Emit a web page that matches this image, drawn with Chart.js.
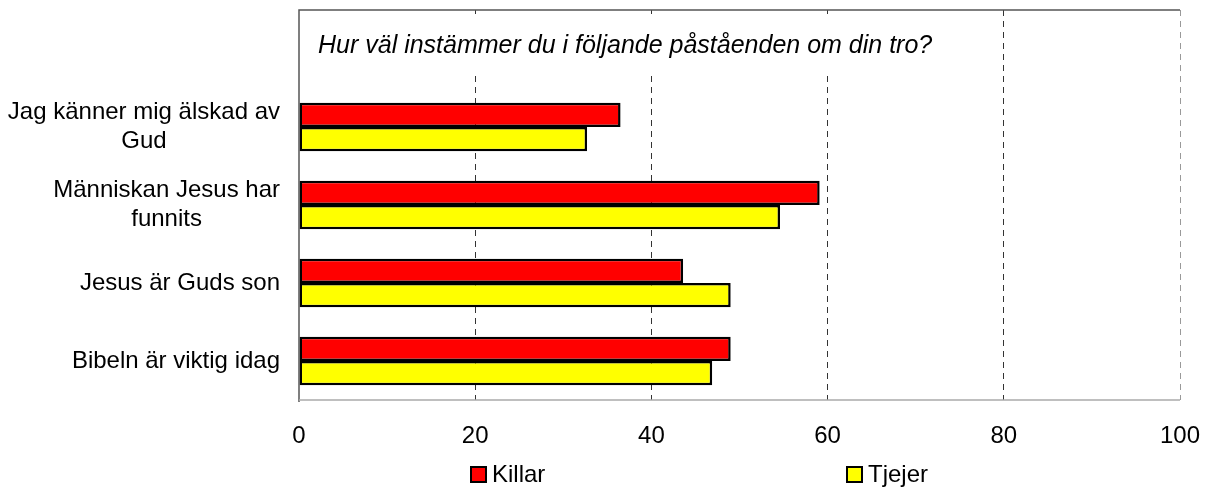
<!DOCTYPE html>
<html>
<head>
<meta charset="utf-8">
<script src="https://cdn.jsdelivr.net/npm/chart.js@4.4.0/dist/chart.umd.min.js"></script>
<style>
  html, body { margin: 0; padding: 0; background: #fff; }
  #wrap { width: 1207px; height: 488px; }
</style>
</head>
<body>
<div id="wrap"><canvas id="chart"></canvas></div>
<script>
// Chart data
const title = "Hur väl instämmer du i följande påståenden om din tro?";
const categories = [
  ["Jag känner mig älskad av", "Gud"],
  ["Människan Jesus har", "funnits"],
  ["Jesus är Guds son"],
  ["Bibeln är viktig idag"],
];
const seriesNames = ["Killar", "Tjejer"];
const killar = [36.5, 59.1, 43.6, 49.0];
const tjejer = [32.7, 54.6, 49.0, 46.9];
const xMin = 0;
const xMax = 100;
const xStep = 20;

const FONT = '"Liberation Sans", Arial, sans-serif';
Chart.defaults.font.family = FONT;
Chart.defaults.font.size = 24;
Chart.defaults.color = "#000";

// top row is left empty, the title sits there inside the plot frame
const labels = [""].concat(categories.map((c) => c.join(" ")));

// title box drawn over the grid lines
const titlePlugin = {
  id: "titleBox",
  beforeDatasetsDraw(chart) {
    const { ctx, chartArea } = chart;
    ctx.save();
    ctx.fillStyle = "#fff";
    ctx.fillRect(chartArea.left + 11, chartArea.top + 4, 640, 62);
    ctx.fillStyle = "#000";
    ctx.font = "italic 25px " + FONT;
    ctx.textAlign = "left";
    ctx.textBaseline = "middle";
    ctx.fillText(title, chartArea.left + 19, chartArea.top + 36);
    ctx.restore();
  },
};

// frame, category labels and legend
const extrasPlugin = {
  id: "extras",
  afterDraw(chart) {
    const { ctx, chartArea, scales } = chart;
    ctx.save();

    // frame lines
    ctx.lineWidth = 1.5;
    ctx.strokeStyle = "#555";
    ctx.beginPath();
    ctx.moveTo(chartArea.left, chartArea.bottom + 2);
    ctx.lineTo(chartArea.left, chartArea.top);
    ctx.lineTo(chartArea.right, chartArea.top);
    ctx.stroke();
    ctx.strokeStyle = "#aaa";
    ctx.beginPath();
    ctx.moveTo(chartArea.left, chartArea.bottom);
    ctx.lineTo(chartArea.right, chartArea.bottom);
    ctx.stroke();

    // category labels, each label's lines centred on each other
    ctx.font = "24px " + FONT;
    ctx.fillStyle = "#000";
    ctx.textAlign = "center";
    ctx.textBaseline = "middle";
    const rightEdge = chartArea.left - 19;
    categories.forEach((lines, i) => {
      const y = scales.y.getPixelForValue(i + 1);
      const w = Math.max(...lines.map((l) => ctx.measureText(l).width));
      const cx = rightEdge - w / 2;
      lines.forEach((line, j) => {
        ctx.fillText(line, cx, y + (j - (lines.length - 1) / 2) * 29);
      });
    });

    // legend
    const legendY = chart.height - 13;
    const legendX = [471, 847];
    ctx.textAlign = "left";
    chart.data.datasets.forEach((ds, i) => {
      ctx.fillStyle = ds.backgroundColor;
      ctx.fillRect(legendX[i], legendY - 8, 15, 15);
      ctx.lineWidth = 2;
      ctx.strokeStyle = "#000";
      ctx.strokeRect(legendX[i], legendY - 8, 15, 15);
      ctx.fillStyle = "#000";
      ctx.fillText(ds.label, legendX[i] + 21, legendY);
    });
    ctx.restore();
  },
};

new Chart(document.getElementById("chart"), {
  type: "bar",
  data: {
    labels: labels,
    datasets: [
      {
        label: seriesNames[0],
        data: [null].concat(killar),
        backgroundColor: "#ff0000",
        borderColor: "#000",
        borderWidth: 2.5,
        borderSkipped: false,
      },
      {
        label: seriesNames[1],
        data: [null].concat(tjejer),
        backgroundColor: "#ffff00",
        borderColor: "#000",
        borderWidth: 2.5,
        borderSkipped: false,
      },
    ],
  },
  options: {
    indexAxis: "y",
    responsive: true,
    maintainAspectRatio: false,
    animation: false,
    layout: { padding: { top: 10, right: 27, left: 0, bottom: 0 } },
    datasets: { bar: { categoryPercentage: 0.62, barPercentage: 1 } },
    plugins: {
      legend: { display: false },
      tooltip: { enabled: false },
    },
    scales: {
      x: {
        min: xMin,
        max: xMax,
        ticks: { stepSize: xStep, padding: 22, font: { size: 24 }, color: "#000" },
        grid: {
          drawTicks: false,
          lineWidth: 1,
          color: (c) => {
            if (c.tick.value === xMin) return "rgba(0,0,0,0)";
            if (c.tick.value === xMax) return "#999";
            return "#333";
          },
        },
        border: { display: false, dash: [6, 5] },
        afterFit(scale) {
          scale.height = 88;
          scale.paddingLeft = 0;
          scale.paddingRight = 0;
        },
      },
      y: {
        ticks: { display: false },
        grid: { display: false },
        border: { display: false },
        afterFit(scale) {
          scale.width = 299;
        },
      },
    },
  },
  plugins: [titlePlugin, extrasPlugin],
});
</script>
</body>
</html>
